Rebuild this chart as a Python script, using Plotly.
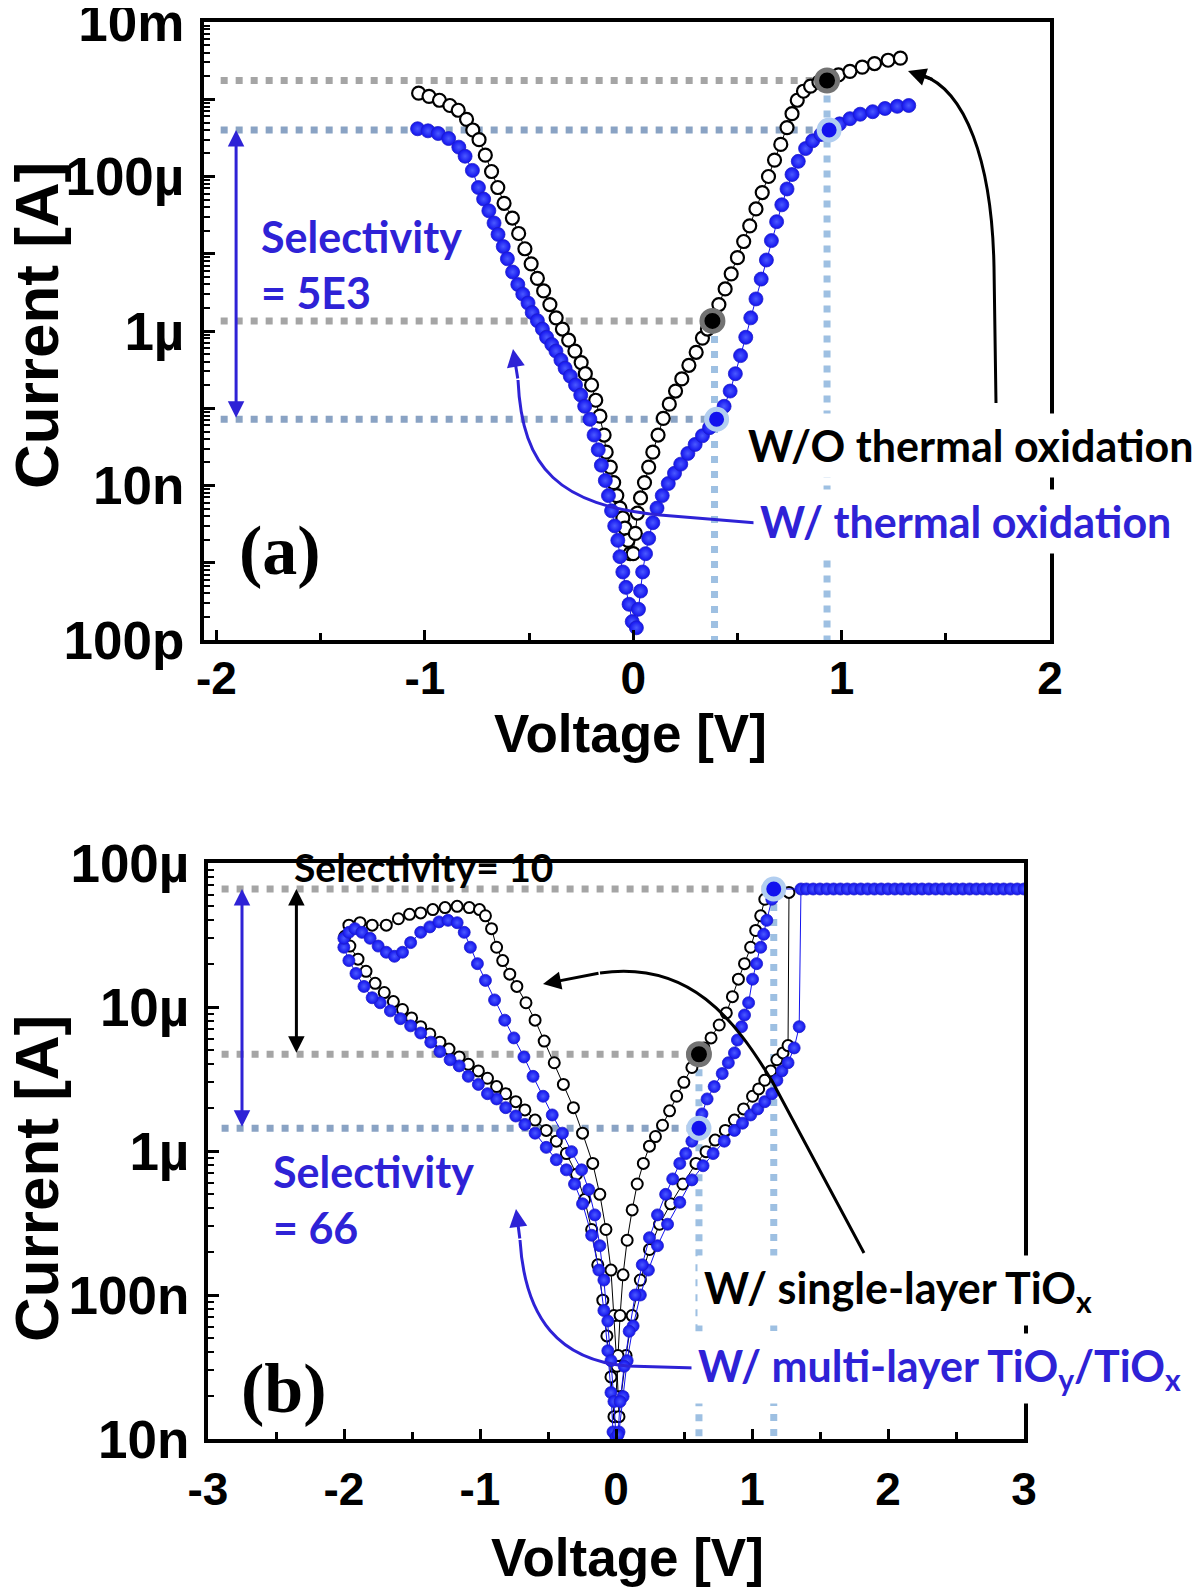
import math
import plotly.graph_objects as go

W, H = 1200, 1587
OFF = 8  # the page body adds an 8px margin; compensate so positions match the reference

# ---------------- Panel (a) data ----------------
a_black_V = [-1.03, -0.98, -0.93, -0.88, -0.84, -0.80, -0.77, -0.74, -0.71, -0.68,
             -0.65, -0.62, -0.58, -0.55, -0.52, -0.49, -0.46, -0.43, -0.40, -0.37,
             -0.34, -0.31, -0.28, -0.25, -0.23, -0.20, -0.18, -0.16, -0.14, -0.13,
             -0.11, -0.094, -0.079, -0.064, -0.050, -0.040, -0.025, -0.015,
             0.0, 0.010, 0.020, 0.035, 0.054, 0.074, 0.094, 0.119, 0.144, 0.173,
             0.203, 0.233, 0.267, 0.302, 0.332, 0.356, 0.381, 0.411, 0.441, 0.470,
             0.500, 0.530, 0.559, 0.589, 0.619, 0.649, 0.678, 0.708, 0.738, 0.762,
             0.787, 0.817, 0.851, 0.891, 0.936, 0.985, 1.040, 1.099, 1.158, 1.223, 1.282]
a_black_I = [1.2e-3, 1.09e-3, 9.7e-4, 8.3e-4, 7.2e-4, 5.5e-4, 4.0e-4, 3.0e-4, 1.89e-4, 1.16e-4,
             7.2e-5, 4.5e-5, 2.9e-5, 1.83e-5, 1.16e-5, 7.4e-6, 4.8e-6, 3.3e-6, 2.2e-6, 1.48e-6,
             1.06e-6, 7.6e-7, 5.5e-7, 3.9e-7, 2.8e-7, 2.0e-7, 1.27e-7, 7.9e-8, 4.5e-8, 2.7e-8,
             1.73e-8, 1.09e-8, 7.4e-9, 5.1e-9, 3.8e-9, 2.8e-9, 1.95e-9, 1.31e-9,
             1.31e-9, 2.4e-9, 4.4e-9, 6.9e-9, 1.09e-8, 1.73e-8, 2.7e-8, 4.5e-8, 7.4e-8, 1.13e-7,
             1.67e-7, 2.4e-7, 3.6e-7, 5.3e-7, 8.1e-7, 1.06e-6, 1.40e-6, 2.2e-6, 3.5e-6, 5.5e-6,
             8.9e-6, 1.44e-5, 2.3e-5, 3.8e-5, 6.2e-5, 1.0e-4, 1.63e-4, 2.6e-4, 4.3e-4, 6.5e-4,
             9.7e-4, 1.27e-3, 1.48e-3, 1.67e-3, 1.83e-3, 2.07e-3, 2.3e-3, 2.6e-3, 2.9e-3, 3.2e-3, 3.4e-3]

a_blue_V = [-1.035, -0.985, -0.936, -0.886, -0.837, -0.807, -0.772, -0.743, -0.718, -0.693,
            -0.668, -0.649, -0.624, -0.604, -0.579, -0.554, -0.530, -0.505, -0.485, -0.460,
            -0.436, -0.416, -0.391, -0.371, -0.347, -0.327, -0.302, -0.277, -0.252, -0.233,
            -0.208, -0.188, -0.168, -0.153, -0.134, -0.119, -0.104, -0.089, -0.074, -0.064,
            -0.050, -0.035, -0.020, -0.005,
            0.015, 0.025, 0.035, 0.045, 0.059, 0.074, 0.094, 0.114, 0.139, 0.168,
            0.198, 0.228, 0.262, 0.297, 0.332, 0.366, 0.406, 0.436, 0.465, 0.490,
            0.515, 0.540, 0.564, 0.589, 0.614, 0.639, 0.663, 0.688, 0.713, 0.738,
            0.762, 0.792, 0.827, 0.861, 0.901, 0.946, 0.990, 1.040, 1.089, 1.149,
            1.208, 1.267, 1.322]
a_blue_I = [4.15e-4, 3.9e-4, 3.6e-4, 3.1e-4, 2.4e-4, 1.83e-4, 1.2e-4, 7.2e-5, 5.1e-5, 3.6e-5,
            2.5e-5, 1.78e-5, 1.24e-5, 8.6e-6, 5.8e-6, 4.0e-6, 3.0e-6, 2.3e-6, 1.73e-6, 1.36e-6,
            1.06e-6, 8.3e-7, 6.7e-7, 5.5e-7, 4.2e-7, 3.3e-7, 2.6e-7, 2.0e-7, 1.48e-7, 1.06e-7,
            7.2e-8, 4.5e-8, 2.9e-8, 1.83e-8, 1.16e-8, 7.4e-9, 4.7e-9, 3.0e-9, 1.95e-9, 1.2e-9,
            7.6e-10, 4.8e-10, 2.9e-10, 1.73e-10,
            1.44e-10, 2.5e-10, 4.3e-10, 7.6e-10, 1.31e-9, 2.07e-9, 3.3e-9, 5.1e-9, 7.4e-9, 1.06e-8,
            1.44e-8, 1.89e-8, 2.6e-8, 3.4e-8, 4.4e-8, 5.6e-8, 7.2e-8, 1.06e-7, 1.67e-7, 2.8e-7,
            4.8e-7, 8.3e-7, 1.48e-6, 2.6e-6, 4.7e-6, 8.3e-6, 1.48e-5, 2.6e-5, 4.3e-5, 6.9e-5,
            1.06e-4, 1.57e-4, 2.3e-4, 2.9e-4, 3.5e-4, 4.0e-4, 4.8e-4, 5.6e-4, 6.4e-4, 6.9e-4,
            7.6e-4, 8.1e-4, 8.3e-4]

# highlighted read points (low / high state)
a_black_hl_V = [0.38, 0.93]
a_black_hl_I = [1.35e-6, 1.75e-3]
a_blue_hl_V = [0.40, 0.94]
a_blue_hl_I = [7.2e-8, 4.0e-4]

a_ytick_vals = [1e-10, 1e-9, 1e-8, 1e-7, 1e-6, 1e-5, 1e-4, 1e-3, 1e-2]
a_ytick_text = ["100p", "", "10n", "", "1µ", "", "100µ", "", "10m"]
a_xtick_vals = [-2, -1, 0, 1, 2]
a_xtick_text = ["-2", "-1", "0", "1", "2"]

# ---------------- Panel (b) data ----------------
b_black_V = ([-0.015, -0.037, -0.067, -0.097, -0.134, -0.179, -0.231, -0.290, -0.365, -0.439,
              -0.513, -0.595, -0.670, -0.737, -0.811, -0.878, -0.945, -1.012, -1.086, -1.153,
              -1.228, -1.295, -1.369, -1.436, -1.503, -1.570, -1.637, -1.704, -1.771, -1.838,
              -1.897, -1.957, -1.994] +
             [-1.964, -1.882, -1.793, -1.689, -1.600, -1.518, -1.436, -1.347, -1.257, -1.168,
              -1.079, -1.004, -0.960, -0.915, -0.878, -0.833, -0.781, -0.729, -0.662, -0.595,
              -0.528, -0.454, -0.387, -0.313, -0.246, -0.171, -0.119, -0.074, -0.037, -0.015,
              0.007, 0.022] +
             [0.037, 0.074, 0.119, 0.179, 0.246, 0.320, 0.402, 0.491, 0.588, 0.662,
              0.729, 0.804, 0.871, 0.938, 1.004, 1.049, 1.094, 1.138, 1.183, 1.228,
              1.265, 1.272] +
             [1.094, 1.064, 1.027, 0.990, 0.945, 0.900, 0.856, 0.811, 0.759, 0.699,
              0.647, 0.603, 0.558, 0.499, 0.446, 0.394, 0.342, 0.290, 0.246, 0.201,
              0.156, 0.119, 0.082, 0.052, 0.030, 0.015, 0.0])
b_black_I = ([1.43e-8, 2.7e-8, 5.2e-8, 9.2e-8, 1.62e-7, 2.85e-7, 4.6e-7, 6.9e-7, 9.6e-7, 1.17e-6,
              1.39e-6, 1.64e-6, 1.93e-6, 2.2e-6, 2.5e-6, 2.8e-6, 3.2e-6, 3.6e-6, 4.0e-6, 4.5e-6,
              5.1e-6, 5.7e-6, 6.5e-6, 7.3e-6, 8.4e-6, 9.6e-6, 1.09e-5, 1.26e-5, 1.46e-5, 1.77e-5,
              2.15e-5, 2.65e-5, 3.1e-5] +
             [3.7e-5, 3.85e-5, 3.7e-5, 3.7e-5, 4.1e-5, 4.4e-5, 4.5e-5, 4.75e-5, 4.9e-5, 5.0e-5,
              4.9e-5, 4.75e-5, 4.3e-5, 3.5e-5, 2.6e-5, 2.1e-5, 1.69e-5, 1.39e-5, 1.07e-5, 8.1e-6,
              5.8e-6, 4.1e-6, 2.9e-6, 2.0e-6, 1.33e-6, 8.2e-7, 5.0e-7, 2.85e-7, 1.49e-7, 7.2e-8,
              3.2e-8, 1.43e-8] +
             [1.97e-8, 3.8e-8, 7.2e-8, 1.27e-7, 2.07e-7, 3.1e-7, 4.3e-7, 5.9e-7, 8.2e-7, 9.9e-7,
              1.19e-6, 1.39e-6, 1.64e-6, 1.96e-6, 2.4e-6, 2.7e-6, 3.1e-6, 3.6e-6, 4.3e-6, 4.8e-6,
              5.4e-6, 6.25e-5] +
             [5.6e-5, 4.3e-5, 3.4e-5, 2.6e-5, 2.0e-5, 1.56e-5, 1.18e-5, 9.1e-6, 7.5e-6, 6.1e-6,
              5.2e-6, 4.7e-6, 3.8e-6, 3.0e-6, 2.4e-6, 1.9e-6, 1.51e-6, 1.26e-6, 1.08e-6, 8.2e-7,
              5.9e-7, 3.9e-7, 2.4e-7, 1.38e-7, 7.2e-8, 3.8e-8, 1.97e-8])

b_blue_V = ([-0.022, -0.037, -0.060, -0.089, -0.126, -0.179, -0.246, -0.305, -0.365, -0.439,
             -0.513, -0.595, -0.670, -0.737, -0.811, -0.878, -0.945, -1.012, -1.086, -1.153,
             -1.220, -1.295, -1.362, -1.436, -1.510, -1.585, -1.659, -1.734, -1.793, -1.853,
             -1.912, -1.964, -2.001] +
            [-2.001, -1.964, -1.920, -1.868, -1.808, -1.749, -1.689, -1.629, -1.570, -1.510,
             -1.436, -1.369, -1.302, -1.235, -1.168, -1.116, -1.071, -1.019, -0.960, -0.893,
             -0.818, -0.751, -0.677, -0.610, -0.536, -0.469, -0.394, -0.327, -0.253, -0.201,
             -0.156, -0.119, -0.089, -0.060, -0.037, -0.015, 0.0] +
            [0.022, 0.052, 0.082, 0.126, 0.179, 0.238, 0.305, 0.379, 0.469, 0.558,
             0.640, 0.714, 0.796, 0.871, 0.930, 0.990, 1.042, 1.094, 1.146, 1.183,
             1.220, 1.265, 1.310, 1.347] +
            [1.36, 1.40, 1.45, 1.50, 1.55, 1.60, 1.65, 1.70, 1.75, 1.80, 1.85, 1.90,
             1.95, 2.00, 2.05, 2.10, 2.15, 2.20, 2.25, 2.30, 2.35, 2.40, 2.45, 2.50,
             2.55, 2.60, 2.65, 2.70, 2.75, 2.80, 2.85, 2.90, 2.95, 3.00] +
            [1.161, 1.146, 1.109, 1.086, 1.064, 1.034, 1.004, 0.975, 0.945, 0.923,
             0.893, 0.871, 0.826, 0.781, 0.722, 0.670, 0.632, 0.603, 0.558, 0.513,
             0.469, 0.417, 0.365, 0.305, 0.246, 0.193, 0.141, 0.097, 0.060, 0.030, 0.015])
b_blue_I = ([1.12e-8, 2.1e-8, 4.1e-8, 7.8e-8, 1.49e-7, 2.6e-7, 4.3e-7, 5.9e-7, 7.4e-7, 8.7e-7,
             1.06e-6, 1.33e-6, 1.53e-6, 1.75e-6, 2.0e-6, 2.3e-6, 2.5e-6, 2.9e-6, 3.3e-6, 3.9e-6,
             4.3e-6, 4.9e-6, 5.7e-6, 6.6e-6, 7.4e-6, 8.3e-6, 9.4e-6, 1.07e-5, 1.16e-5, 1.39e-5,
             1.71e-5, 2.1e-5, 2.6e-5] +
            [3.0e-5, 3.3e-5, 3.5e-5, 3.3e-5, 3.0e-5, 2.65e-5, 2.4e-5, 2.25e-5, 2.4e-5, 2.8e-5,
             3.3e-5, 3.6e-5, 3.9e-5, 4.0e-5, 3.85e-5, 3.3e-5, 2.6e-5, 2.0e-5, 1.53e-5, 1.12e-5,
             8.1e-6, 6.1e-6, 4.5e-6, 3.3e-6, 2.4e-6, 1.78e-6, 1.33e-6, 9.9e-7, 7.4e-7, 5.4e-7,
             3.6e-7, 2.2e-7, 1.27e-7, 6.6e-8, 3.5e-8, 1.82e-8, 1.03e-8] +
            [1.12e-8, 1.97e-8, 3.5e-8, 6.1e-8, 1.0e-7, 1.49e-7, 2.2e-7, 3.1e-7, 4.4e-7, 6.3e-7,
             7.9e-7, 9.6e-7, 1.17e-6, 1.39e-6, 1.56e-6, 1.78e-6, 1.96e-6, 2.2e-6, 2.5e-6, 3.1e-6,
             3.6e-6, 4.1e-6, 5.2e-6, 7.3e-6] +
            [6.6e-5, 6.6e-5, 6.6e-5, 6.6e-5, 6.6e-5, 6.6e-5, 6.6e-5, 6.6e-5, 6.6e-5, 6.6e-5,
             6.6e-5, 6.6e-5, 6.6e-5, 6.6e-5, 6.6e-5, 6.6e-5, 6.6e-5, 6.6e-5, 6.6e-5, 6.6e-5,
             6.6e-5, 6.6e-5, 6.6e-5, 6.6e-5, 6.6e-5, 6.6e-5, 6.6e-5, 6.6e-5, 6.6e-5, 6.6e-5,
             6.6e-5, 6.6e-5, 6.6e-5, 6.6e-5] +
            [6.6e-5, 5.6e-5, 4.0e-5, 3.2e-5, 2.6e-5, 2.0e-5, 1.56e-5, 1.07e-5, 8.8e-6, 7.3e-6,
             5.9e-6, 4.8e-6, 4.1e-6, 3.45e-6, 2.8e-6, 2.3e-6, 1.81e-6, 1.44e-6, 1.17e-6, 9.6e-7,
             8.2e-7, 6.4e-7, 5.0e-7, 3.6e-7, 2.5e-7, 1.62e-7, 1.0e-7, 5.6e-8, 3.2e-8, 1.82e-8, 1.07e-8])

b_black_hl_V = [0.61]
b_black_hl_I = [4.7e-6]
b_blue_hl_V = [0.61, 1.16]
b_blue_hl_I = [1.44e-6, 6.6e-5]

b_ytick_vals = [1e-8, 1e-7, 1e-6, 1e-5, 1e-4]
b_ytick_text = ["10n", "100n", "1µ", "10µ", "100µ"]
b_xtick_vals = [-3, -2, -1, 0, 1, 2, 3]
b_xtick_text = ["-3", "-2", "-1", "0", "1", "2", "3"]

# ---------------- styling ----------------
BLUE = "#1212ee"
BLUE_TXT = "#2e22d6"
GRAY_DOT = "rgb(165,165,165)"
BLUEGRAY_DOT = "rgb(138,163,196)"
LIGHTBLUE_DOT = "rgb(158,192,226)"
DOT = "7px,8px"


def fx(x):
    return (x - OFF) / W


def fy(y):
    return 1 - (y - OFF) / H


def P(x, y):
    return f"{fx(x):.5f},{fy(y):.5f}"


fig = go.Figure()


def dotted(xa, ya, xs, ys, color):
    fig.add_trace(go.Scatter(x=xs, y=ys, xaxis=xa, yaxis=ya, mode="lines",
                             line=dict(color=color, width=7, dash=DOT),
                             hoverinfo="skip"))


# ---- panel (a) guide lines ----
A_XMIN, A_YMIN = -1.98, 1e-10
dotted("x", "y", [A_XMIN, a_black_hl_V[1]], [a_black_hl_I[1]] * 2, GRAY_DOT)
dotted("x", "y", [A_XMIN, a_blue_hl_V[1]], [a_blue_hl_I[1]] * 2, BLUEGRAY_DOT)
dotted("x", "y", [A_XMIN, a_black_hl_V[0]], [a_black_hl_I[0]] * 2, GRAY_DOT)
dotted("x", "y", [A_XMIN, a_blue_hl_V[0]], [a_blue_hl_I[0]] * 2, BLUEGRAY_DOT)
dotted("x", "y", [a_black_hl_V[1]] * 2, [a_black_hl_I[1], A_YMIN], LIGHTBLUE_DOT)
dotted("x", "y", [a_black_hl_V[0] + 0.01] * 2, [a_black_hl_I[0], A_YMIN], LIGHTBLUE_DOT)

# ---- panel (b) guide lines ----
B_XMIN, B_YMIN = -2.9, 1e-8
dotted("x2", "y2", [B_XMIN, b_blue_hl_V[1]], [b_blue_hl_I[1]] * 2, GRAY_DOT)
dotted("x2", "y2", [B_XMIN, b_black_hl_V[0]], [b_black_hl_I[0]] * 2, GRAY_DOT)
dotted("x2", "y2", [B_XMIN, b_blue_hl_V[0]], [b_blue_hl_I[0]] * 2, BLUEGRAY_DOT)
dotted("x2", "y2", [b_blue_hl_V[1]] * 2, [b_blue_hl_I[1], B_YMIN], LIGHTBLUE_DOT)
dotted("x2", "y2", [b_black_hl_V[0]] * 2, [b_black_hl_I[0], B_YMIN], LIGHTBLUE_DOT)


def blue_marker(s):
    return dict(size=s, color=BLUE,
                gradient=dict(type="radial", color="rgb(75,90,255)"),
                line=dict(width=0.8, color="rgb(30,30,200)"))


# ---- data traces ----
fig.add_trace(go.Scatter(x=a_black_V, y=a_black_I, xaxis="x", yaxis="y", mode="lines+markers",
                         line=dict(color="black", width=1),
                         marker=dict(size=13, color="white", line=dict(color="black", width=2.2))))
fig.add_trace(go.Scatter(x=a_blue_V, y=a_blue_I, xaxis="x", yaxis="y", mode="lines+markers",
                         line=dict(color=BLUE, width=1), marker=blue_marker(14)))
fig.add_trace(go.Scatter(x=b_black_V, y=b_black_I, xaxis="x2", yaxis="y2", mode="lines+markers",
                         line=dict(color="black", width=1),
                         marker=dict(size=11, color="white", line=dict(color="black", width=2))))
fig.add_trace(go.Scatter(x=b_blue_V, y=b_blue_I, xaxis="x2", yaxis="y2", mode="lines+markers",
                         line=dict(color=BLUE, width=1), marker=blue_marker(12)))

# ---- highlighted points ----
for xa, ya, vv, ii in [("x", "y", a_black_hl_V, a_black_hl_I), ("x2", "y2", b_black_hl_V, b_black_hl_I)]:
    fig.add_trace(go.Scatter(x=vv, y=ii, xaxis=xa, yaxis=ya, mode="markers",
                             marker=dict(size=21, color="black",
                                         line=dict(color="rgb(115,115,115)", width=5))))
for xa, ya, vv, ii in [("x", "y", a_blue_hl_V, a_blue_hl_I), ("x2", "y2", b_blue_hl_V, b_blue_hl_I)]:
    fig.add_trace(go.Scatter(x=vv, y=ii, xaxis=xa, yaxis=ya, mode="markers",
                             marker=dict(size=20, color=BLUE,
                                         line=dict(color="rgb(178,206,240)", width=5))))

# ---------------- axes ----------------
XTICKFONT = dict(family="Liberation Sans, Arial", size=46, color="black", weight="bold")
YTICKFONT = dict(family="Liberation Sans, Arial", size=53, color="black", weight="bold")
common = dict(showline=True, linewidth=4, linecolor="black", mirror=True, showgrid=False,
              zeroline=False, ticks="inside", tickwidth=3, tickcolor="black",
              automargin=False, ticklabeloverflow="allow")

fig.update_layout(
    width=W, height=H, margin=dict(l=0, r=0, t=0, b=0, autoexpand=False),
    paper_bgcolor="white", plot_bgcolor="white", showlegend=False,
    xaxis=dict(domain=[fx(204), fx(1050)], anchor="y", range=[-2.06, 2.0],
               tickmode="array", tickvals=a_xtick_vals, ticktext=a_xtick_text, ticklen=10,
               ticklabelstandoff=-5, tickfont=XTICKFONT,
               minor=dict(tickmode="array", tickvals=[-1.5, -0.5, 0.5, 1.5], ticks="inside",
                          ticklen=7, tickwidth=3, tickcolor="black"), **common),
    yaxis=dict(domain=[fy(640), fy(22)], anchor="x", type="log", range=[-10, -2],
               tickmode="array", tickvals=a_ytick_vals, ticktext=a_ytick_text, ticklen=11,
               ticklabelstandoff=5, tickfont=YTICKFONT,
               minor=dict(dtick="D1", ticks="inside", ticklen=6, tickwidth=2, tickcolor="black"),
               **common),
    xaxis2=dict(domain=[fx(208), fx(1024)], anchor="y2", range=[-3, 3],
                tickmode="array", tickvals=b_xtick_vals, ticktext=b_xtick_text, ticklen=10,
                ticklabelstandoff=7, tickfont=XTICKFONT,
                minor=dict(tickmode="array", tickvals=[-2.5, -1.5, -0.5, 0.5, 1.5, 2.5],
                           ticks="inside", ticklen=7, tickwidth=3, tickcolor="black"), **common),
    yaxis2=dict(domain=[fy(1439), fy(863)], anchor="x2", type="log", range=[-8, -4],
                tickmode="array", tickvals=b_ytick_vals, ticktext=b_ytick_text, ticklen=11,
                ticklabelstandoff=4, tickfont=YTICKFONT,
                minor=dict(dtick="D1", ticks="inside", ticklen=6, tickwidth=2, tickcolor="black"),
                **common),
)

# ---------------- annotations ----------------
TITLEFONT = dict(family="Liberation Sans, Arial", color="black", weight="bold")
ann = []
for yc in (326, 1179):
    ann.append(dict(xref="paper", yref="paper", x=fx(36), y=fy(yc), text="Current [A]",
                    textangle=-90, showarrow=False, xanchor="center", yanchor="middle",
                    font=dict(size=62, **TITLEFONT)))
for xc, yc in ((630, 734), (627, 1557)):
    ann.append(dict(xref="paper", yref="paper", x=fx(xc), y=fy(yc), text="Voltage [V]",
                    showarrow=False, xanchor="center", yanchor="middle",
                    font=dict(size=53, **TITLEFONT)))

LBL = dict(family="Lato, Open Sans", weight="bold")
PANEL = dict(family="Liberation Serif, Times New Roman", weight="bold", color="black", size=70)


def txt(x, y, text, color, size, bg=None, **kw):
    d = dict(xref="paper", yref="paper", x=fx(x), y=fy(y), text=text, showarrow=False,
             xanchor="left", yanchor="middle", align="left",
             font=dict(size=size, color=color, **LBL))
    if bg:
        d.update(bgcolor=bg, borderpad=6)
    d.update(kw)
    ann.append(d)


# panel (a) texts
txt(259, 264, "Selectivity<br>= 5E3", BLUE_TXT, 43)
txt(741, 445, "W/O thermal oxidation", "black", 43, bg="white")
txt(753, 521, "W/ thermal oxidation", BLUE_TXT, 43, bg="white")
ann.append(dict(xref="paper", yref="paper", x=fx(280), y=fy(551), text="(a)", showarrow=False,
                xanchor="center", yanchor="middle", font=PANEL))
# panel (b) texts
txt(292, 867, "Selectivity= 10", "black", 39)
txt(271, 1199, "Selectivity<br>= 66", BLUE_TXT, 43)
txt(697, 1290, "W/ single-layer TiO<sub>x</sub>", "black", 43, bg="white")
txt(691, 1368, "W/ multi-layer TiO<sub>y</sub>/TiO<sub>x</sub>", BLUE_TXT, 43, bg="white")
ann.append(dict(xref="paper", yref="paper", x=fx(284), y=fy(1388), text="(b)", showarrow=False,
                xanchor="center", yanchor="middle", font=PANEL))


# double-headed selectivity arrows (data-referenced)
def darrow(xr, yr, xv, i_hi, i_lo, color):
    ann.append(dict(xref=xr, yref=yr, axref=xr, ayref=yr, x=xv, y=math.log10(i_hi),
                    ax=xv, ay=math.log10(i_lo), text="", showarrow=True, arrowside="end+start",
                    arrowhead=2, arrowsize=1.1, arrowwidth=3, arrowcolor=color, standoff=0,
                    startstandoff=0))


darrow("x", "y", -1.906, a_blue_hl_I[1], a_blue_hl_I[0], BLUE_TXT)
darrow("x2", "y2", -2.75, b_blue_hl_I[1], b_blue_hl_I[0], BLUE_TXT)
darrow("x2", "y2", -2.35, b_blue_hl_I[1], b_black_hl_I[0], "black")


# curved pointer arrows: body as path shapes, heads as annotations
def head(x, y, ax, ay, color):
    ann.append(dict(xref="paper", yref="paper", x=fx(x), y=fy(y), ax=ax, ay=ay, text="",
                    showarrow=True, arrowhead=2, arrowsize=1.2, arrowwidth=3, arrowcolor=color,
                    standoff=0))


shapes = [
    dict(type="path", xref="paper", yref="paper", line=dict(color="black", width=3),
         path=f"M {P(996,403)} L {P(994,267)} C {P(992,160)} {P(965,90)} {P(922,75)}"),
    dict(type="path", xref="paper", yref="paper", line=dict(color=BLUE_TXT, width=3),
         path=f"M {P(757,523)} L {P(660,515)} C {P(560,505)} {P(522,470)} {P(518,380)}"),
    dict(type="path", xref="paper", yref="paper", line=dict(color="black", width=3),
         path=f"M {P(864,1253)} L {P(772,1081)} C {P(735,1020)} {P(690,960)} {P(600,973)}"),
    dict(type="path", xref="paper", yref="paper", line=dict(color=BLUE_TXT, width=3),
         path=f"M {P(696,1368)} L {P(627,1366)} C {P(560,1360)} {P(525,1320)} {P(520,1240)}"),
]
head(908, 71, 26, 9, "black")
head(513, 349, 5, 31, BLUE_TXT)
head(543, 984, 57, -11, "black")
head(516, 1209, 4, 31, BLUE_TXT)

fig.update_layout(annotations=ann, shapes=shapes)

fig.write_html("out.html")
